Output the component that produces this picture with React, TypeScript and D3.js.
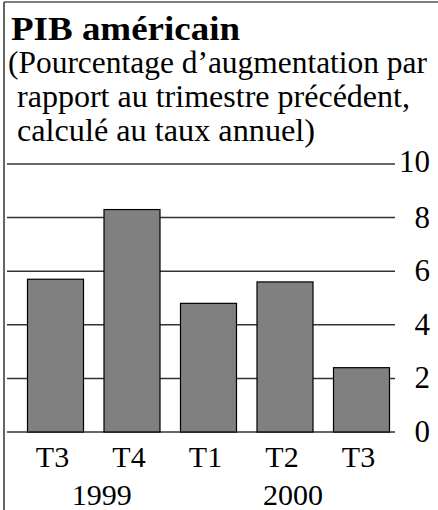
import React from 'react';
import * as d3 from 'd3';

// values (annualised quarter-on-quarter growth, %)
const periods = ['1999-T3', '1999-T4', '2000-T1', '2000-T2', '2000-T3'];
const quarterLabels = ['T3', 'T4', 'T1', 'T2', 'T3'];
const growth = [5.7, 8.3, 4.8, 5.6, 2.4];
const years = ['1999', '2000'];
const yTicks = [0, 2, 4, 6, 8, 10];

const title = 'PIB américain';
const subtitle = [
  '(Pourcentage d\u2019augmentation par',
  'rapport au trimestre précédent,',
  'calculé au taux annuel)',
];
// measured widths of the subtitle lines in the reference
const subtitleWidths = [419, 393, 298];

const W = 438;
const H = 510;
const font = "'Liberation Serif', 'DejaVu Serif', serif";

const App = () => {
  const x = d3.scaleBand<string>().domain(periods).range([7, 410]).padding(0.268);
  const y = d3.scaleLinear().domain([0, 10]).range([432, 164]);
  const gridX0 = 7;
  const gridX1 = 395;

  // year label sits under the middle of its quarters
  const yearCenter = (yr: string) => {
    const xs = periods.filter((p) => p.startsWith(yr)).map((p) => (x(p) as number) + x.bandwidth() / 2);
    return d3.mean(xs) as number;
  };

  return (
    <svg width={W} height={H} style={{ position: 'absolute', left: 0, top: 0, background: '#fff', fontFamily: font }}>
      {/* frame */}
      <line x1={4} x2={W} y1={2} y2={2} stroke="#555" strokeWidth={1.5} />
      <line x1={4} x2={4} y1={2} y2={H} stroke="#333" strokeWidth={1.5} />

      <text x={11} y={40} fontSize={34} fontWeight="bold" fill="#000" textLength={229} lengthAdjust="spacingAndGlyphs">
        {title}
      </text>
      {subtitle.map((s, i) => (
        <text
          key={i}
          x={i === 0 ? 8 : 17}
          y={73 + i * 34}
          fontSize={31}
          fill="#000"
          textLength={subtitleWidths[i]}
          lengthAdjust="spacingAndGlyphs"
        >
          {s}
        </text>
      ))}

      {/* gridlines */}
      {yTicks.map((t) => (
        <line key={t} x1={gridX0} x2={gridX1} y1={y(t)} y2={y(t)} stroke="#333" strokeWidth={1.5} />
      ))}

      {/* bars */}
      {periods.map((p, i) => (
        <rect
          key={p}
          x={x(p)}
          y={y(growth[i])}
          width={x.bandwidth()}
          height={y(0) - y(growth[i])}
          fill="#808080"
          stroke="#000"
          strokeWidth={1.2}
        />
      ))}

      {/* y tick labels, right side */}
      {yTicks.map((t) => (
        <text key={t} x={430} y={y(t) + (t === 10 ? 8 : 10)} fontSize={31} textAnchor="end" fill="#000">
          {t}
        </text>
      ))}

      {/* quarter labels */}
      {periods.map((p, i) => (
        <text key={p} x={(x(p) as number) + x.bandwidth() / 2 - 3} y={467} fontSize={30} textAnchor="middle" fill="#000">
          {quarterLabels[i]}
        </text>
      ))}
      {years.map((yr) => (
        <text key={yr} x={yearCenter(yr) + 8} y={505} fontSize={30} textAnchor="middle" fill="#000">
          {yr}
        </text>
      ))}
    </svg>
  );
};

export default App;
